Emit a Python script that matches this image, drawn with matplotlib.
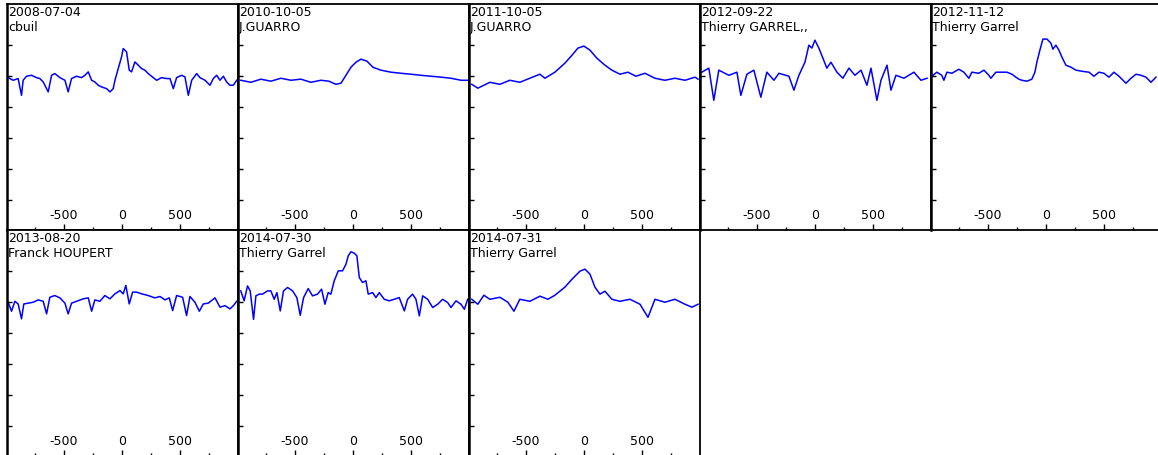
import matplotlib
matplotlib.use("Agg")
import matplotlib.pyplot as plt
from matplotlib.ticker import MultipleLocator, FixedLocator

plt.rcParams['font.family'] = ['DejaVu Sans']
plt.rcParams['axes.unicode_minus'] = False

# Observation dates and observers, one per panel
dates = ["2008-07-04", "2010-10-05", "2011-10-05", "2012-09-22",
         "2012-11-12", "2013-08-20", "2014-07-30", "2014-07-31"]
observers = ["cbuil", "J.GUARRO", "J.GUARRO", "Thierry GARREL,,",
             "Thierry Garrel", "Franck HOUPERT", "Thierry Garrel", "Thierry Garrel"]

# Radial velocity (km/s) and normalised flux of each spectrum
vel_1 = [-980, -937, -894, -865, -851, -822, -779, -736, -707, -678, -635, -606, -578,
         -534, -491, -463, -434, -391, -348, -319, -290, -261, -233, -204, -175, -132,
         -103, -75, -60, -32, -3, 11, 40, 63, 83, 112, 141, 170, 198, 227, 270, 299,
         342, 385, 414, 443, 471, 514, 543, 572, 601, 644, 672, 716, 759, 787, 816,
         845, 874, 902, 931, 960, 989]
flux_1 = [0.991, 0.974, 0.985, 0.877, 0.974, 1.0, 1.006, 0.991, 0.985, 0.963, 0.899,
          1.006, 1.017, 0.991, 0.974, 0.899, 0.985, 1.0, 0.991, 1.006, 1.028, 0.974,
          0.963, 0.942, 0.931, 0.920, 0.899, 0.920, 0.974, 1.049, 1.125, 1.178, 1.157,
          1.039, 1.028, 1.092, 1.071, 1.049, 1.039, 1.017, 0.991, 0.974, 0.991, 0.985,
          0.985, 0.920, 0.991, 1.006, 0.996, 0.877, 0.974, 1.017, 0.991, 0.974, 0.942,
          0.985, 1.006, 0.974, 1.0, 0.963, 0.942, 0.942, 0.974]

vel_2 = [-966, -879, -793, -707, -621, -534, -448, -362, -276, -207, -147, -103, -60,
         -17, 26, 69, 121, 172, 241, 328, 414, 500, 586, 672, 759, 845, 931, 991]
flux_2 = [0.974, 0.961, 0.981, 0.968, 0.987, 0.974, 0.981, 0.961, 0.974, 0.968, 0.948,
          0.955, 1.006, 1.058, 1.090, 1.110, 1.097, 1.058, 1.039, 1.026, 1.019, 1.013,
          1.006, 1.0, 0.994, 0.987, 0.974, 0.974]

vel_3 = [-966, -914, -810, -724, -638, -552, -466, -379, -336, -250, -164, -103, -52,
         0, 52, 112, 181, 241, 310, 379, 448, 526, 612, 698, 784, 871, 957, 983]
flux_3 = [0.948, 0.923, 0.961, 0.948, 0.974, 0.961, 0.987, 1.013, 0.987, 1.026, 1.084,
          1.135, 1.181, 1.194, 1.168, 1.116, 1.071, 1.039, 1.013, 1.026, 1.0, 1.019,
          0.987, 0.974, 0.987, 0.974, 0.994, 0.981]

vel_4 = [-974, -914, -871, -828, -741, -672, -638, -586, -526, -466, -414, -353, -310,
         -224, -181, -138, -86, -52, -26, 0, 34, 69, 103, 138, 190, 241, 293, 345, 397,
         448, 483, 534, 569, 621, 655, 698, 767, 853, 914, 966]
flux_4 = [1.026, 1.052, 0.845, 1.039, 1.006, 1.026, 0.877, 1.013, 1.039, 0.865, 1.026,
          0.974, 1.019, 1.0, 0.910, 1.006, 1.090, 1.200, 1.181, 1.232, 1.181, 1.116,
          1.052, 1.090, 1.026, 0.987, 1.052, 1.006, 1.039, 0.942, 1.052, 0.845, 0.974,
          1.071, 0.910, 1.006, 0.987, 1.026, 0.974, 0.987]

vel_5 = [-983, -940, -897, -879, -853, -810, -750, -707, -664, -638, -578, -534, -491,
         -474, -431, -379, -336, -293, -259, -233, -207, -164, -121, -95, -78, -52, -26,
         9, 43, 60, 86, 112, 138, 172, 216, 259, 310, 371, 414, 457, 500, 543, 586, 629,
         690, 733, 776, 819, 862, 905, 948]
flux_5 = [1.0, 1.026, 1.006, 0.974, 1.026, 1.019, 1.045, 1.026, 0.987, 1.026, 1.019,
          1.039, 1.006, 0.987, 1.026, 1.026, 1.026, 1.013, 0.994, 0.981, 0.974, 0.968,
          0.981, 1.026, 1.090, 1.168, 1.239, 1.239, 1.213, 1.174, 1.200, 1.168, 1.123,
          1.071, 1.058, 1.039, 1.032, 1.026, 1.0, 1.026, 1.019, 0.994, 1.026, 1.0, 0.955,
          0.987, 1.013, 1.006, 0.994, 0.961, 0.994]

vel_6 = [-980, -951, -922, -894, -865, -845, -807, -764, -721, -678, -649, -621, -578,
         -534, -491, -463, -434, -391, -333, -290, -261, -233, -190, -147, -103, -60,
         -17, 11, 34, 63, 92, 126, 170, 227, 284, 328, 371, 408, 437, 471, 523, 557,
         586, 629, 667, 701, 744, 802, 845, 888, 931, 960, 989]
flux_6 = [1.0, 0.942, 1.006, 0.989, 0.893, 0.989, 0.994, 1.0, 1.015, 1.006, 0.925,
          1.032, 1.043, 1.028, 0.994, 0.925, 0.994, 1.006, 1.022, 1.028, 0.942, 1.015,
          1.006, 1.043, 1.022, 1.054, 1.075, 1.054, 1.108, 0.989, 1.065, 1.065, 1.054,
          1.043, 1.028, 1.037, 1.015, 1.028, 0.946, 1.043, 1.032, 0.914, 1.037, 1.0,
          0.942, 0.989, 0.994, 1.028, 0.968, 0.978, 0.957, 0.978, 1.006]

vel_7 = [-966, -937, -908, -885, -856, -836, -807, -779, -736, -707, -678, -655, -626,
         -598, -563, -520, -483, -454, -425, -385, -348, -305, -270, -241, -213, -190,
         -161, -126, -89, -60, -40, -17, 11, 34, 55, 83, 112, 132, 170, 198, 227, 270,
         313, 356, 399, 443, 471, 514, 543, 572, 601, 644, 687, 730, 773, 816, 845, 888,
         931, 960, 989]
flux_7 = [1.073, 1.009, 1.105, 1.073, 0.890, 1.041, 1.052, 1.052, 1.073, 1.073, 1.019,
          1.062, 0.944, 1.073, 1.095, 1.073, 1.030, 0.916, 1.030, 1.088, 1.041, 1.052,
          1.084, 0.987, 1.062, 1.052, 1.138, 1.202, 1.202, 1.245, 1.299, 1.325, 1.316,
          1.299, 1.159, 1.127, 1.138, 1.052, 1.062, 1.030, 1.062, 1.019, 1.009, 1.019,
          1.030, 0.944, 1.019, 1.052, 1.019, 0.912, 1.041, 1.019, 0.966, 0.987, 1.019,
          0.998, 0.966, 1.009, 0.987, 0.955, 1.019]

vel_8 = [-966, -914, -862, -810, -724, -655, -603, -552, -466, -379, -310, -250, -164,
         -103, -34, 9, 52, 95, 138, 181, 241, 310, 397, 483, 552, 612, 698, 784, 871,
         931, 983]
flux_8 = [1.019, 0.987, 1.045, 1.019, 1.032, 1.0, 0.942, 1.019, 1.006, 1.039, 1.019,
          1.045, 1.097, 1.148, 1.200, 1.213, 1.181, 1.097, 1.052, 1.071, 1.019, 1.006,
          1.019, 0.987, 0.903, 1.019, 1.0, 1.019, 0.987, 0.968, 0.987]

velocities = [vel_1, vel_2, vel_3, vel_4, vel_5, vel_6, vel_7, vel_8]
fluxes = [flux_1, flux_2, flux_3, flux_4, flux_5, flux_6, flux_7, flux_8]

W, H = 1158, 455
fig = plt.figure(figsize=(W / 100, H / 100), dpi=100)
fig.patch.set_facecolor("white")

col_left = [7, 238, 469, 700, 931]
row_top = [4, 230]
panel_w, panel_h = 231, 226

for i, (v, f) in enumerate(zip(velocities, fluxes)):
    r, c = divmod(i, 5)
    x0 = col_left[c]
    y0 = row_top[r]
    ax = fig.add_axes([x0 / W, 1 - (y0 + panel_h) / H, panel_w / W, panel_h / H])
    ax.plot(v, f, color="#0000ff", lw=1.1)
    ax.set_xlim(-990, 1000)
    ax.set_ylim(0.01, 1.465)
    ax.xaxis.set_major_locator(FixedLocator([-500, 0, 500]))
    ax.xaxis.set_minor_locator(FixedLocator([-750, -250, 250, 750]))
    ax.yaxis.set_major_locator(FixedLocator([0.2, 0.4, 0.6, 0.8, 1.0, 1.2]))
    ax.tick_params(axis="x", which="major", direction="in", length=4.5, width=1,
                   pad=-15, labelsize=9, colors="black")
    ax.tick_params(axis="x", which="minor", direction="in", length=2.5, width=1)
    ax.tick_params(axis="y", which="major", direction="in", length=3.5, width=1,
                   labelleft=False)
    for side, sp in ax.spines.items():
        sp.set_linewidth(1.3)
        sp.set_color("black")
    ax.spines["left"].set_linewidth(1.8)
    ax.annotate(dates[i], xy=(0, 1), xycoords="axes fraction", xytext=(0.8, -1.2),
                textcoords="offset points", ha="left", va="top", fontsize=9)
    ax.annotate(observers[i], xy=(0, 1), xycoords="axes fraction", xytext=(0.8, -12.5),
                textcoords="offset points", ha="left", va="top", fontsize=9)

fig.savefig("out.png", dpi=100)
